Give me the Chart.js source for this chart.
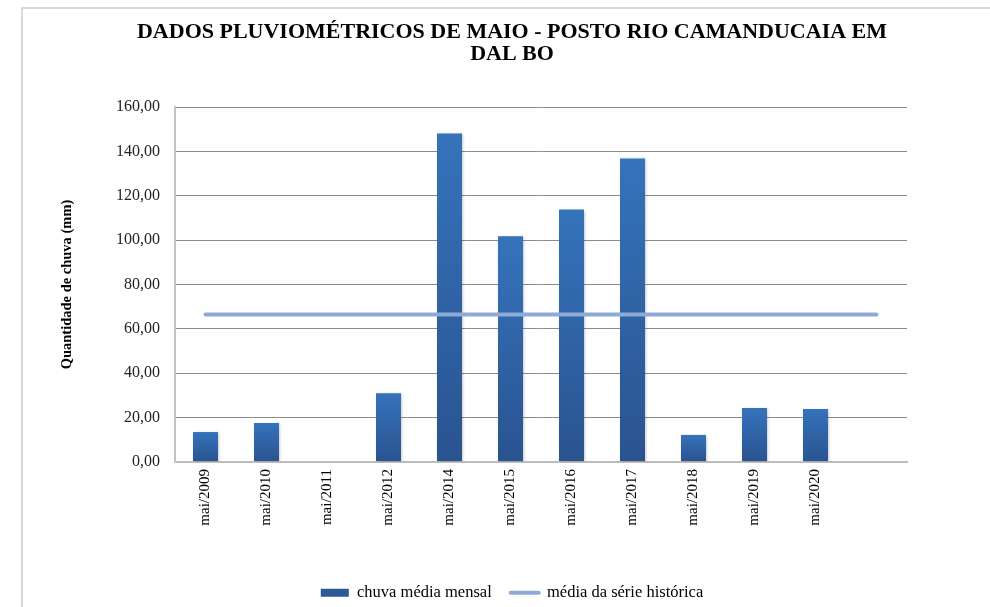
<!DOCTYPE html>
<html>
<head>
<meta charset="UTF-8">
<title>Dados pluviométricos de maio</title>
<script src="https://cdn.jsdelivr.net/npm/chart.js@4/dist/chart.umd.min.js"></script>
<style>
  html, body { margin: 0; padding: 0; background: #fff; overflow: hidden; }
  #frame { position: absolute; left: 21px; top: 7px; width: 980px; height: 620px;
           border-top: 2px solid #d8d8d8; border-left: 2px solid #d8d8d8; }
  #chart { position: absolute; left: 0; top: 0; }
</style>
</head>
<body>
<div id="frame"></div>
<canvas id="chart" width="990" height="607"></canvas>
<script>
// data
var categories = ['mai/2009', 'mai/2010', 'mai/2011', 'mai/2012', 'mai/2014', 'mai/2015',
                  'mai/2016', 'mai/2017', 'mai/2018', 'mai/2019', 'mai/2020', ''];
var chuvaMensal = [13.5, 17.6, 0, 31.0, 148.1, 101.7, 113.8, 136.8, 12.2, 24.3, 23.9, null];
var mediaHistorica = [66.5, 66.5, 66.5, 66.5, 66.5, 66.5, 66.5, 66.5, 66.5, 66.5, 66.5, 66.5];
var seriesNames = ['chuva média mensal', 'média da série histórica'];
var yTicks = [0, 20, 40, 60, 80, 100, 120, 140, 160];
var titleLines = ['DADOS PLUVIOMÉTRICOS DE MAIO - POSTO RIO CAMANDUCAIA EM', 'DAL BO'];
var yTitle = 'Quantidade de chuva (mm)';

var BAR_TOP = '#3573bb';
var BAR_BOTTOM = '#2a5390';
var LINE_COLOR = '#8eaad6';
var SERIF = '"Liberation Serif", "Times New Roman", serif';

var PLOT_BOTTOM = 462;
var PAD_BOTTOM = -4;

function barFill(ctx) {
    var chart = ctx.chart;
    if (!chart.chartArea || ctx.type !== 'data' || !ctx.raw) { return BAR_TOP; }
    var y = chart.scales.y;
    var top = y.getPixelForValue(ctx.raw);
    var bottom = y.getPixelForValue(0);
    if (bottom - top < 1) { return BAR_TOP; }
    var g = chart.ctx.createLinearGradient(0, top, 0, bottom);
    g.addColorStop(0, BAR_TOP);
    g.addColorStop(1, BAR_BOTTOM);
    return g;
}

// soft shadow behind the bars
var barShadow = {
    id: 'barShadow',
    beforeDatasetDraw: function (chart, args) {
        if (args.index !== 0) { return; }
        var c = chart.ctx;
        c.save();
        c.shadowColor = 'rgba(0,0,0,0.28)';
        c.shadowBlur = 3;
        c.shadowOffsetX = 1;
        c.shadowOffsetY = 1;
    },
    afterDatasetDraw: function (chart, args) {
        if (args.index !== 0) { return; }
        chart.ctx.restore();
    }
};

new Chart(document.getElementById('chart'), {
    type: 'bar',
    data: {
        labels: categories,
        datasets: [{
            label: seriesNames[0],
            data: chuvaMensal,
            backgroundColor: barFill,
            borderWidth: 0,
            categoryPercentage: 1,
            barPercentage: 0.41,
            order: 1
        }, {
            type: 'line',
            label: seriesNames[1],
            data: mediaHistorica,
            borderColor: LINE_COLOR,
            backgroundColor: LINE_COLOR,
            borderWidth: 4,
            borderCapStyle: 'round',
            pointRadius: 0,
            fill: false,
            order: 0
        }]
    },
    options: {
        responsive: false,
        animation: false,
        layout: { padding: { left: 117, right: 83, top: 0, bottom: PAD_BOTTOM } },
        plugins: {
            tooltip: { enabled: false },
            title: {
                display: true,
                text: titleLines,
                color: '#000',
                font: { family: SERIF, size: 22, weight: 'bold', lineHeight: 1.0 },
                padding: { top: 21, bottom: 42 }
            },
            legend: {
                display: true,
                position: 'bottom',
                labels: {
                    usePointStyle: true,
                    pointStyleWidth: 28,
                    boxHeight: 8,
                    padding: 19,
                    color: '#000',
                    font: { family: SERIF, size: 16.5 },
                    generateLabels: function () {
                        return [{
                            text: seriesNames[0], fillStyle: '#2c5a96', strokeStyle: '#2c5a96',
                            lineWidth: 0, pointStyle: 'rect', datasetIndex: 0, fontColor: '#000'
                        }, {
                            text: seriesNames[1], fillStyle: LINE_COLOR, strokeStyle: LINE_COLOR,
                            lineWidth: 4, lineCap: 'round', pointStyle: 'line', datasetIndex: 1, fontColor: '#000'
                        }];
                    }
                }
            }
        },
        scales: {
            x: {
                grid: { display: false, drawTicks: false },
                border: { color: '#bcbcbc', width: 2 },
                ticks: {
                    autoSkip: false, minRotation: 90, maxRotation: 90, padding: 7,
                    color: '#000', font: { family: SERIF, size: 15 }
                },
                afterFit: function (s) {
                    var lg = s.chart.legend ? s.chart.legend.height : 70;
                    s.height = 607 - PAD_BOTTOM - lg - PLOT_BOTTOM;
                }
            },
            y: {
                min: 0,
                max: 160,
                afterBuildTicks: function (s) {
                    s.ticks = yTicks.map(function (v) { return { value: v }; });
                },
                grid: {
                    drawTicks: false,
                    color: function (c) { return c.tick && c.tick.value === 0 ? '#bcbcbc' : '#8c8c8c'; },
                    lineWidth: function (c) { return c.tick && c.tick.value === 0 ? 2 : 1; }
                },
                border: { color: '#c4c4c4', width: 2 },
                ticks: {
                    padding: 15,
                    color: '#222',
                    font: { family: SERIF, size: 16 },
                    callback: function (v) { return v.toFixed(2).replace('.', ','); }
                },
                title: {
                    display: true,
                    text: yTitle,
                    color: '#000',
                    font: { family: SERIF, size: 14.5, weight: 'bold' },
                    padding: { top: -58, bottom: 0 }
                },
                afterFit: function (s) { s.width = 58; }
            }
        }
    },
    plugins: [barShadow]
});
</script>
</body>
</html>
